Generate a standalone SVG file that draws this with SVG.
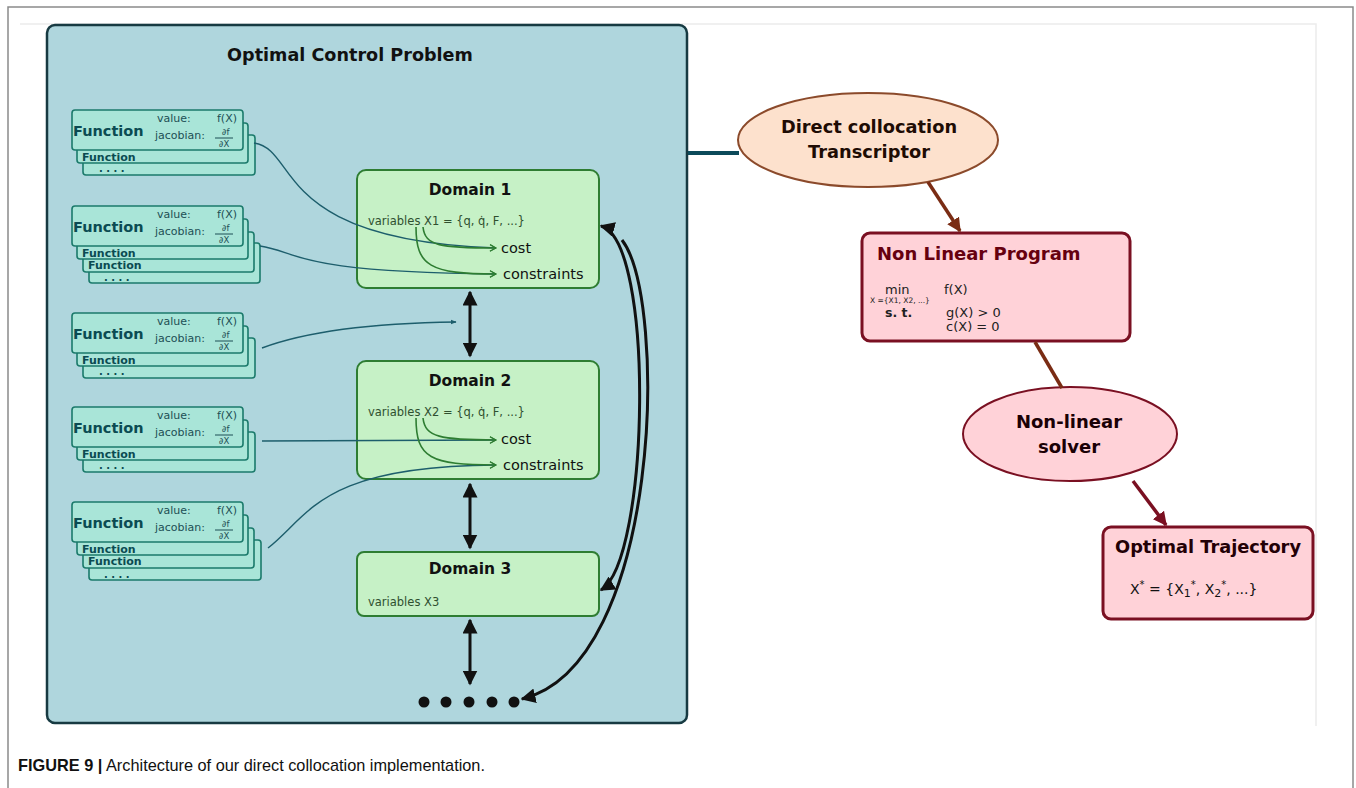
<svg xmlns="http://www.w3.org/2000/svg" width="1356" height="788" viewBox="0 0 1356 788">
<defs>
<style>
.ff{font-family:"DejaVu Sans",Verdana,sans-serif}
.fn{fill:#a9e5d8;stroke:#1b7a6b;stroke-width:1.6}
.fnt{font-family:"DejaVu Sans",sans-serif;font-weight:bold;fill:#0b4b52}
.sm{font-family:"DejaVu Sans",sans-serif;font-size:11px;fill:#1d4f55}
.fr{font-family:"DejaVu Sans",sans-serif;font-size:8.5px;fill:#1d4f55}
.dom{fill:#c6f1c6;stroke:#2e7d32;stroke-width:2}
.dt{font-family:"DejaVu Sans",sans-serif;font-weight:bold;font-size:15.5px;fill:#111}
.dv{font-family:"DejaVu Sans",sans-serif;font-size:11.5px;fill:#2f4f2f}
.dc{font-family:"DejaVu Sans",sans-serif;font-size:14.5px;fill:#111}
.tc{fill:none;stroke:#1d5e6c;stroke-width:1.4}
.gc{fill:none;stroke:#2e7d32;stroke-width:1.6}
.blk{fill:none;stroke:#111;stroke-width:3}
.pk{fill:#ffd2d8;stroke:#7a1022;stroke-width:3}
</style>
<marker id="ah" viewBox="0 0 10 10" refX="9" refY="5" markerWidth="5" markerHeight="5" orient="auto-start-reverse" markerUnits="strokeWidth">
<path d="M0,0 L10,5 L0,10 z" fill="#111"/>
</marker>
<marker id="gh" viewBox="0 0 12 12" refX="11" refY="6" markerWidth="8" markerHeight="8" orient="auto" markerUnits="userSpaceOnUse">
<path d="M2,1 L11,6 L2,11" fill="none" stroke="#2e7d32" stroke-width="1.6"/>
</marker>
<marker id="th" viewBox="0 0 10 10" refX="9" refY="5" markerWidth="6" markerHeight="6" orient="auto" markerUnits="userSpaceOnUse">
<path d="M0,1 L10,5 L0,9 z" fill="#1d5e6c"/>
</marker>
<marker id="bh" viewBox="0 0 10 10" refX="9" refY="5" markerWidth="14" markerHeight="14" orient="auto" markerUnits="userSpaceOnUse">
<path d="M0,0 L10,5 L0,10 z" fill="#7a2c14"/>
</marker>
<marker id="rh" viewBox="0 0 10 10" refX="9" refY="5" markerWidth="14" markerHeight="14" orient="auto" markerUnits="userSpaceOnUse">
<path d="M0,0 L10,5 L0,10 z" fill="#7a1022"/>
</marker>
</defs>
<rect width="1356" height="788" fill="#fff"/>
<path d="M8,788 V7 H1353 V788" fill="none" stroke="#8a8a8a" stroke-width="1.5"/>
<path d="M20,24 H1316 V726" fill="none" stroke="#ececec" stroke-width="1.5"/>

<g id="ocp">
<rect x="47" y="25" width="640" height="698" rx="8" fill="#afd6dd" stroke="#173a42" stroke-width="2.5"/>
<text x="350" y="61" text-anchor="middle" class="ff" font-weight="bold" font-size="17.6" fill="#111">Optimal Control Problem</text>
</g>

<g id="func1">
<rect class="fn" x="83" y="135" width="172" height="40" rx="3"/>
<rect class="fn" x="77" y="123" width="171" height="40" rx="3"/>
<rect class="fn" x="72" y="110" width="171" height="40" rx="3"/>
<text x="73" y="136" class="fnt" font-size="14.5">Function</text>
<text x="157" y="122" class="sm">value:</text><text x="217" y="122" class="sm">f(X)</text>
<text x="155" y="139" class="sm">jacobian:</text>
<text x="222" y="135" class="fr">∂f</text><line x1="215" y1="138" x2="233" y2="138" stroke="#1d4f55" stroke-width="1"/><text x="219" y="147" class="fr">∂X</text>
<text x="82" y="161" class="fnt" font-size="11">Function</text>
<text x="99" y="172" class="fnt" font-size="10">. . . .</text>
</g>

<g id="func2">
<rect class="fn" x="89" y="243" width="171" height="40" rx="3"/>
<rect class="fn" x="83" y="232" width="171" height="40" rx="3"/>
<rect class="fn" x="77" y="219" width="171" height="40" rx="3"/>
<rect class="fn" x="72" y="206" width="171" height="40" rx="3"/>
<text x="73" y="232" class="fnt" font-size="14.5">Function</text>
<text x="157" y="218" class="sm">value:</text><text x="217" y="218" class="sm">f(X)</text>
<text x="155" y="235" class="sm">jacobian:</text>
<text x="222" y="231" class="fr">∂f</text><line x1="215" y1="234" x2="233" y2="234" stroke="#1d4f55" stroke-width="1"/><text x="219" y="243" class="fr">∂X</text>
<text x="82" y="257" class="fnt" font-size="11">Function</text>
<text x="88" y="269" class="fnt" font-size="11">Function</text>
<text x="104" y="281" class="fnt" font-size="10">. . . .</text>
</g>

<g id="func3">
<rect class="fn" x="83" y="338" width="172" height="40" rx="3"/>
<rect class="fn" x="77" y="326" width="171" height="40" rx="3"/>
<rect class="fn" x="72" y="313" width="171" height="40" rx="3"/>
<text x="73" y="339" class="fnt" font-size="14.5">Function</text>
<text x="157" y="325" class="sm">value:</text><text x="217" y="325" class="sm">f(X)</text>
<text x="155" y="342" class="sm">jacobian:</text>
<text x="222" y="338" class="fr">∂f</text><line x1="215" y1="341" x2="233" y2="341" stroke="#1d4f55" stroke-width="1"/><text x="219" y="350" class="fr">∂X</text>
<text x="82" y="364" class="fnt" font-size="11">Function</text>
<text x="99" y="375" class="fnt" font-size="10">. . . .</text>
</g>

<g id="func4">
<rect class="fn" x="83" y="432" width="172" height="40" rx="3"/>
<rect class="fn" x="77" y="420" width="171" height="40" rx="3"/>
<rect class="fn" x="72" y="407" width="171" height="40" rx="3"/>
<text x="73" y="433" class="fnt" font-size="14.5">Function</text>
<text x="157" y="419" class="sm">value:</text><text x="217" y="419" class="sm">f(X)</text>
<text x="155" y="436" class="sm">jacobian:</text>
<text x="222" y="432" class="fr">∂f</text><line x1="215" y1="435" x2="233" y2="435" stroke="#1d4f55" stroke-width="1"/><text x="219" y="444" class="fr">∂X</text>
<text x="82" y="458" class="fnt" font-size="11">Function</text>
<text x="99" y="469" class="fnt" font-size="10">. . . .</text>
</g>

<g id="func5">
<rect class="fn" x="89" y="540" width="172" height="40" rx="3"/>
<rect class="fn" x="83" y="528" width="171" height="40" rx="3"/>
<rect class="fn" x="77" y="515" width="171" height="40" rx="3"/>
<rect class="fn" x="72" y="502" width="171" height="40" rx="3"/>
<text x="73" y="528" class="fnt" font-size="14.5">Function</text>
<text x="157" y="514" class="sm">value:</text><text x="217" y="514" class="sm">f(X)</text>
<text x="155" y="531" class="sm">jacobian:</text>
<text x="222" y="527" class="fr">∂f</text><line x1="215" y1="530" x2="233" y2="530" stroke="#1d4f55" stroke-width="1"/><text x="219" y="539" class="fr">∂X</text>
<text x="82" y="553" class="fnt" font-size="11">Function</text>
<text x="88" y="565" class="fnt" font-size="11">Function</text>
<text x="104" y="578" class="fnt" font-size="10">. . . .</text>
</g>

<g id="domain1">
<rect class="dom" x="357" y="170" width="242" height="118" rx="9"/>
<text x="470" y="195" text-anchor="middle" class="dt">Domain 1</text>
<text x="368" y="225" class="dv">variables X1 = {q, q̇, F, ...}</text>
<text x="501" y="253" class="dc">cost</text>
<text x="503" y="279" class="dc">constraints</text>
</g>
<g id="domain2">
<rect class="dom" x="357" y="361" width="242" height="118" rx="9"/>
<text x="470" y="386" text-anchor="middle" class="dt">Domain 2</text>
<text x="368" y="416" class="dv">variables X2 = {q, q̇, F, ...}</text>
<text x="501" y="444" class="dc">cost</text>
<text x="503" y="470" class="dc">constraints</text>
</g>
<g id="domain3">
<rect class="dom" x="357" y="552" width="242" height="64" rx="7"/>
<text x="470" y="574" text-anchor="middle" class="dt">Domain 3</text>
<text x="368" y="606" class="dv">variables X3</text>
</g>
<g id="dots" fill="#111">
<circle cx="424" cy="702" r="5.5"/><circle cx="446" cy="702" r="5.5"/><circle cx="469" cy="702" r="5.5"/><circle cx="492" cy="702" r="5.5"/><circle cx="514" cy="702" r="5.5"/>
</g>

<g id="transcriptor">
<ellipse cx="868" cy="140" rx="130" ry="47" fill="#fde1cd" stroke="#8b4a2b" stroke-width="2"/>
<text x="869" y="133" text-anchor="middle" class="ff" font-weight="bold" font-size="17.8" fill="#1e0c04">Direct collocation</text>
<text x="869" y="158" text-anchor="middle" class="ff" font-weight="bold" font-size="17.8" fill="#1e0c04">Transcriptor</text>
</g>
<g id="nlp">
<rect class="pk" x="862" y="233" width="268" height="108" rx="8"/>
<text x="877" y="260" class="ff" font-weight="bold" font-size="18" fill="#66000f">Non Linear Program</text>
<text x="885" y="294" class="ff" font-size="13" fill="#222">min</text>
<text x="870" y="303" class="ff" font-size="7.5" fill="#222">X ={X1, X2, ...}</text>
<text x="885" y="317" class="ff" font-size="12.5" fill="#222" font-weight="bold">s. t.</text>
<text x="944" y="294" class="ff" font-size="13" fill="#222">f(X)</text>
<text x="946" y="317" class="ff" font-size="13" fill="#222">g(X) &gt; 0</text>
<text x="946" y="331" class="ff" font-size="13" fill="#222">c(X) = 0</text>
</g>
<g id="solver">
<ellipse cx="1070" cy="434" rx="107" ry="47" fill="#ffd2d8" stroke="#7a1022" stroke-width="2"/>
<text x="1069" y="428" text-anchor="middle" class="ff" font-weight="bold" font-size="18" fill="#1a0005">Non-linear</text>
<text x="1069" y="453" text-anchor="middle" class="ff" font-weight="bold" font-size="18" fill="#1a0005">solver</text>
</g>
<g id="trajectory">
<rect class="pk" x="1103" y="527" width="210" height="92" rx="8"/>
<text x="1208" y="553" text-anchor="middle" class="ff" font-weight="bold" font-size="17.8" fill="#230006">Optimal Trajectory</text>
<text x="1130" y="594" class="ff" font-size="14" fill="#111">X<tspan dy="-6" font-size="10">*</tspan><tspan dy="6"> = {X</tspan><tspan dy="3" font-size="11">1</tspan><tspan dy="-9" font-size="10">*</tspan><tspan dy="6">, X</tspan><tspan dy="3" font-size="11">2</tspan><tspan dy="-9" font-size="10">*</tspan><tspan dy="6">, ...}</tspan></text>
</g>

<g id="connectors">
<line x1="688" y1="153" x2="739" y2="153" stroke="#0c4a5a" stroke-width="4"/>
<line x1="928" y1="182" x2="960" y2="231" stroke="#7a2c14" stroke-width="3.5" marker-end="url(#bh)"/>
<line x1="1035" y1="342" x2="1062" y2="388" stroke="#7a2c14" stroke-width="3.5"/>
<line x1="1133" y1="481" x2="1166" y2="525" stroke="#7a1022" stroke-width="3.5" marker-end="url(#rh)"/>

<path class="tc" d="M254,143 C300,150 270,240 496,248" marker-end="url(#gh)"/>
<path class="tc" d="M260,246 C300,252 290,272 496,274" marker-end="url(#gh)"/>
<path class="tc" d="M262,348 C310,330 380,323 456,322" marker-end="url(#th)"/>
<path class="tc" d="M262,441 L496,440" marker-end="url(#gh)"/>
<path class="tc" d="M268,548 C310,515 320,466 496,465" marker-end="url(#gh)"/>

<path class="gc" d="M423,227 C425,246 440,248 496,248" marker-end="url(#gh)"/>
<path class="gc" d="M416,227 C416,266 430,274 496,274" marker-end="url(#gh)"/>
<path class="gc" d="M423,418 C425,437 440,440 496,440" marker-end="url(#gh)"/>
<path class="gc" d="M416,418 C416,458 430,465 496,465" marker-end="url(#gh)"/>

<line class="blk" x1="470" y1="292" x2="470" y2="356" marker-start="url(#ah)" marker-end="url(#ah)"/>
<line class="blk" x1="470" y1="484" x2="470" y2="548" marker-start="url(#ah)" marker-end="url(#ah)"/>
<line class="blk" x1="470" y1="620" x2="470" y2="684" marker-start="url(#ah)" marker-end="url(#ah)"/>
<path class="blk" d="M601,226 C655,240 650,560 601,590" marker-start="url(#ah)" marker-end="url(#ah)"/>
<path class="blk" d="M622,240 C668,300 662,665 522,699" marker-end="url(#ah)"/>
</g>

<g id="caption">
<text x="18" y="771" font-family="Liberation Sans,Arial,sans-serif" font-size="17" textLength="467" lengthAdjust="spacingAndGlyphs" fill="#111"><tspan font-weight="bold">FIGURE 9 |</tspan> Architecture of our direct collocation implementation.</text>
</g>
</svg>
